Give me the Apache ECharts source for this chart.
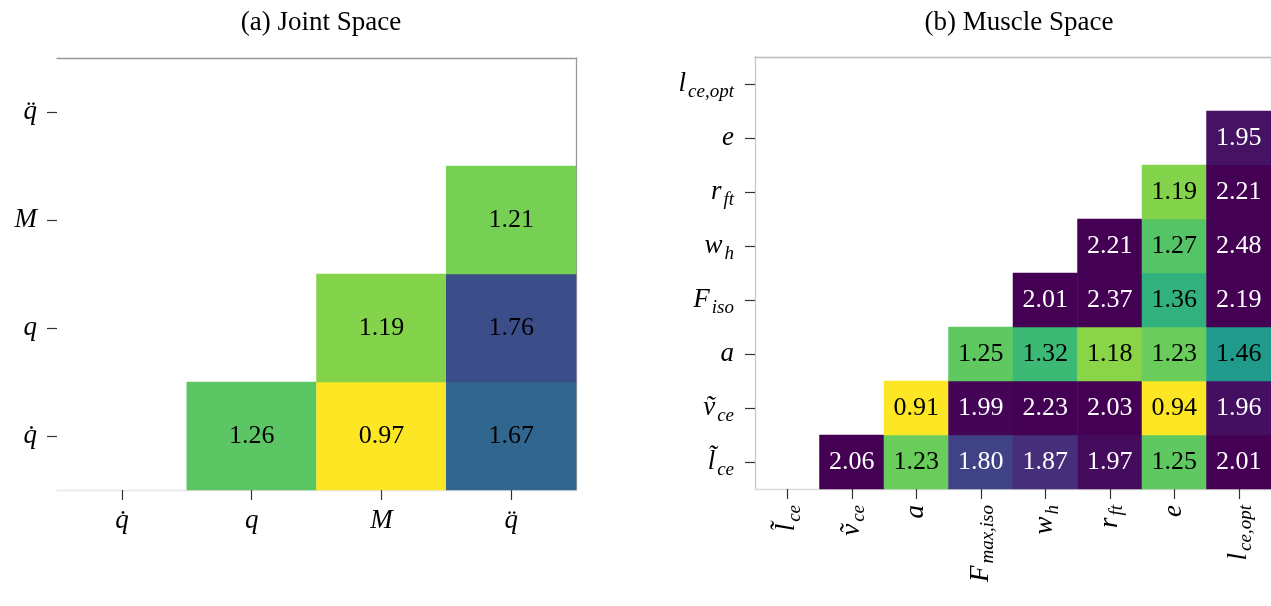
<!DOCTYPE html>
<html>
<head>
<meta charset="utf-8">
<script src="https://cdn.jsdelivr.net/npm/echarts@6/dist/echarts.min.js"></script>
<style>
  html, body { margin: 0; padding: 0; background: #fff; }
  #chart { width: 1271px; height: 606px; }
</style>
</head>
<body>
<div id="chart"></div>
<script>
// ---- Joint space (lower-left empty triangle) ----
const jointTicks = ['q\u0307', 'q', 'M', 'q\u0308'];
// [column, row, value]; rows counted from the bottom
const jointCells = [
  [1, 0, 1.26], [2, 0, 0.97], [3, 0, 1.67],
  [2, 1, 1.19], [3, 1, 1.76],
  [3, 2, 1.21]
];

// ---- Muscle space ----
const muscleXTicks = ['l\u0303_ce', '\u1e7d_ce', 'a', 'F_max,iso', 'w_h', 'r_ft', 'e', 'l_ce,opt'];
const muscleYTicks = ['l\u0303_ce', '\u1e7d_ce', 'a', 'F_iso', 'w_h', 'r_ft', 'e', 'l_ce,opt'];
const muscleRow0 = [[1, 2.06], [2, 1.23], [3, 1.80], [4, 1.87], [5, 1.97], [6, 1.25], [7, 2.01]];
const muscleRow1 = [[2, 0.91], [3, 1.99], [4, 2.23], [5, 2.03], [6, 0.94], [7, 1.96]];
const muscleRow2 = [[3, 1.25], [4, 1.32], [5, 1.18], [6, 1.23], [7, 1.46]];
const muscleRow3 = [[4, 2.01], [5, 2.37], [6, 1.36], [7, 2.19]];
const muscleRow4 = [[5, 2.21], [6, 1.27], [7, 2.48]];
const muscleRow5 = [[6, 1.19], [7, 2.21]];
const muscleRow6 = [[7, 1.95]];
const muscleRows = [muscleRow0, muscleRow1, muscleRow2, muscleRow3, muscleRow4, muscleRow5, muscleRow6];

// viridis, reversed so that low values are yellow
const viridisRev = ['#fde725', '#b5de2b', '#6ece58', '#35b779', '#1f9e89',
                    '#26828e', '#31688e', '#3e4989', '#482878', '#440154'];

const serif = 'Liberation Serif, Times New Roman, serif';
const mathFont = 'Liberation Serif, DejaVu Serif, serif';

const mathRich = {
  b: { fontFamily: mathFont, fontStyle: 'italic', fontSize: 27, color: '#000', lineHeight: 34 },
  s: { fontFamily: mathFont, fontStyle: 'italic', fontSize: 19, color: '#000',
       lineHeight: 18, verticalAlign: 'bottom', padding: [0, 0, 0, 2] }
};
function mathLabel(v) {
  const i = v.indexOf('_');
  if (i < 0) return '{b|' + v + '}';
  return '{b|' + v.slice(0, i) + '}{s|' + v.slice(i + 1) + '}';
}

function cellData(cells, whiteFrom) {
  return cells.map(c => ({
    value: c,
    label: { color: c[2] >= whiteFrom ? '#fff' : '#000' }
  }));
}
const muscleCells = [];
muscleRows.forEach((row, r) => row.forEach(([c, v]) => muscleCells.push([c, r, v])));

function frameAxis(pos, gridIndex, data, color) {
  return {
    type: 'category', gridIndex, position: pos, data,
    axisLine: { show: true, lineStyle: { color, width: 1.3 } },
    axisTick: { show: false }, axisLabel: { show: false }, splitLine: { show: false }
  };
}

const tickStyle = { show: true, alignWithLabel: true, length: 10, lineStyle: { color: '#333', width: 1.2 } };
const titleStyle = { fontFamily: serif, fontWeight: 'normal', fontSize: 27, color: '#000' };

const option = {
  backgroundColor: '#fff',
  animation: false,
  title: [
    { text: '(a) Joint Space', left: 316, top: 4, textAlign: 'center', textStyle: titleStyle },
    { text: '(b) Muscle Space', left: 1014, top: 4, textAlign: 'center', textStyle: titleStyle }
  ],
  grid: [
    { left: 57, top: 58, width: 519, height: 432 },
    { left: 755, top: 57, width: 519, height: 432 }
  ],
  xAxis: [
    { type: 'category', gridIndex: 0, data: jointTicks, position: 'bottom',
      axisLine: { show: true, lineStyle: { color: '#e6e6e6', width: 1.3 } },
      axisTick: tickStyle, splitLine: { show: false },
      axisLabel: { margin: 14, formatter: mathLabel, rich: mathRich } },
    frameAxis('top', 0, jointTicks, '#999'),
    { type: 'category', gridIndex: 1, data: muscleXTicks, position: 'bottom',
      axisLine: { show: true, lineStyle: { color: '#dcdcdc', width: 1.3 } },
      axisTick: tickStyle, splitLine: { show: false },
      axisLabel: { margin: 16, rotate: 90, formatter: mathLabel, rich: mathRich } },
    frameAxis('top', 1, muscleXTicks, '#bbb')
  ],
  yAxis: [
    { type: 'category', gridIndex: 0, data: jointTicks, position: 'left',
      axisLine: { show: false },
      axisTick: tickStyle, splitLine: { show: false },
      axisLabel: { margin: 20, formatter: mathLabel, rich: mathRich } },
    frameAxis('right', 0, jointTicks, '#999'),
    { type: 'category', gridIndex: 1, data: muscleYTicks, position: 'left',
      axisLine: { show: true, lineStyle: { color: '#c8c8c8', width: 1.3 } },
      axisTick: tickStyle, splitLine: { show: false },
      axisLabel: { margin: 21, formatter: mathLabel, rich: mathRich } },
    frameAxis('right', 1, muscleYTicks, '#bbb')
  ],
  visualMap: [
    { type: 'continuous', show: false, seriesIndex: 0, dimension: 2,
      min: 1.0, max: 2.0, inRange: { color: viridisRev } },
    { type: 'continuous', show: false, seriesIndex: 1, dimension: 2,
      min: 1.0, max: 2.0, inRange: { color: viridisRev } }
  ],
  series: [
    { type: 'heatmap', xAxisIndex: 0, yAxisIndex: 0,
      data: cellData(jointCells, 99),
      label: { show: true, fontFamily: serif, fontSize: 26,
               formatter: p => p.value[2].toFixed(2) },
      itemStyle: { borderWidth: 0 } },
    { type: 'heatmap', xAxisIndex: 2, yAxisIndex: 2,
      data: cellData(muscleCells, 1.6),
      label: { show: true, fontFamily: serif, fontSize: 26,
               formatter: p => p.value[2].toFixed(2) },
      itemStyle: { borderWidth: 0 } }
  ]
};

const chart = echarts.init(document.getElementById('chart'), null, { renderer: 'canvas' });
chart.setOption(option);
</script>
</body>
</html>
